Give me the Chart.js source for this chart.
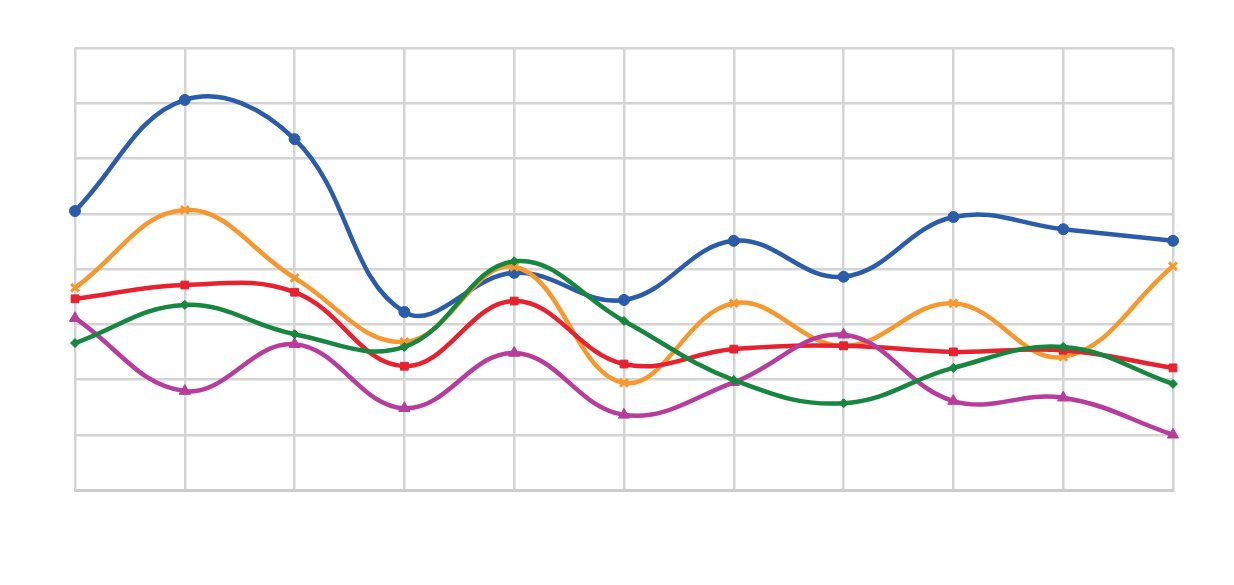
<!DOCTYPE html>
<html>
<head>
<meta charset="utf-8">
<script src="https://cdn.jsdelivr.net/npm/chart.js@4/dist/chart.umd.min.js"></script>
<style>
html,body{margin:0;padding:0;background:#fff;}
#wrap{width:1234px;height:585px;position:relative;}
</style>
</head>
<body>
<div id="wrap"><canvas id="c" width="1234" height="585"></canvas></div>
<script>
const categories = ['1','2','3','4','5','6','7','8','9','10','11'];
const blueValues   = [5.05, 7.06, 6.35, 3.22, 3.93, 3.44, 4.51, 3.86, 4.94, 4.72, 4.51];
const orangeValues = [3.66, 5.07, 3.84, 2.68, 4.04, 1.94, 3.38, 2.61, 3.38, 2.41, 4.05];
const redValues    = [3.46, 3.71, 3.58, 2.24, 3.42, 2.28, 2.55, 2.61, 2.50, 2.53, 2.21];
const greenValues  = [2.66, 3.35, 2.82, 2.59, 4.14, 3.06, 1.99, 1.57, 2.21, 2.59, 1.92];
const purpleValues = [3.11, 1.79, 2.64, 1.48, 2.48, 1.36, 1.95, 2.81, 1.61, 1.67, 1.00];
const yMin = 0, yMax = 8, yStep = 1;

function ds(data, color, style, radius){
  return {data, borderColor: color, backgroundColor: color, borderWidth: 4.5,
    pointStyle: style, pointRadius: radius, pointBorderWidth: style==='crossRot'?3:1,
    pointBorderColor: color, pointBackgroundColor: color,
    tension: 0.4, fill: false, clip: false};
}

new Chart(document.getElementById('c'), {
  type: 'line',
  data: {
    labels: categories,
    datasets: [
      ds(greenValues, '#15873f', 'rectRot', 4.5),
      ds(purpleValues, '#b83c9c', 'triangle', 6.5),
      ds(redValues, '#e8212f', 'rect', 5.5),
      ds(orangeValues, '#f7982e', 'crossRot', 5.5),
      ds(blueValues, '#2b5cab', 'circle', 5.5)
    ]
  },
  options: {
    responsive: false,
    animation: false,
    layout: {padding: {left: 75, right: 61, top: 48, bottom: 95}},
    plugins: {legend: {display: false}, tooltip: {enabled: false}},
    scales: {
      x: {
        offset: false,
        ticks: {display: false},
        grid: {color: '#d4d4d4', lineWidth: 2.5, drawTicks: false},
        border: {display: true, color: '#cccccc', width: 3}
      },
      y: {
        min: yMin, max: yMax,
        ticks: {display: false, stepSize: yStep},
        grid: {color: '#d4d4d4', lineWidth: 2.5, drawTicks: false},
        border: {display: false}
      }
    }
  }
});
</script>
</body>
</html>
